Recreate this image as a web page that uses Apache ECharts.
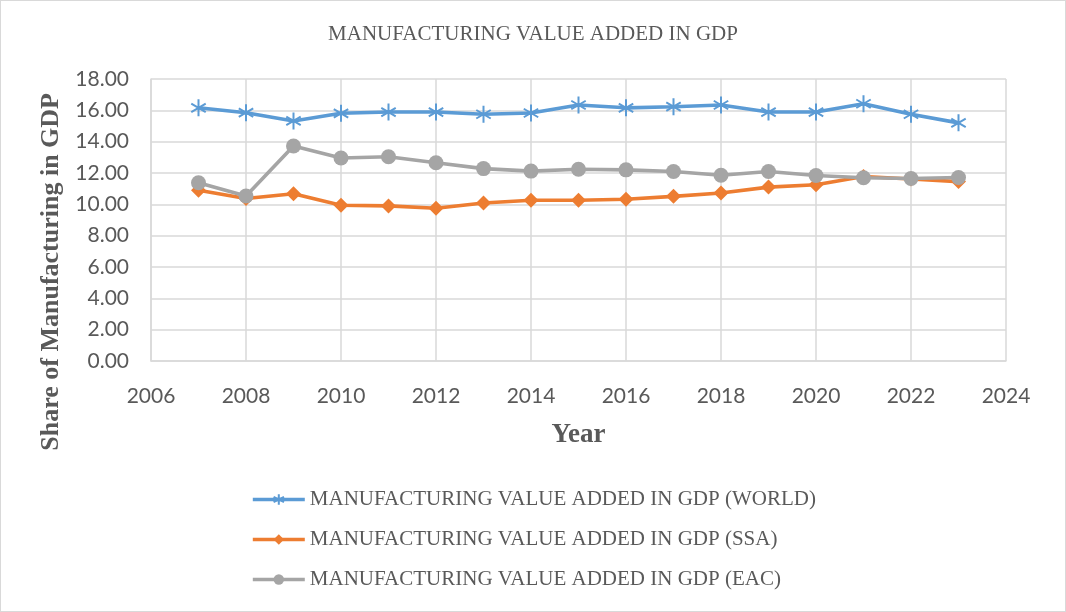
<!DOCTYPE html>
<html>
<head>
<meta charset="utf-8">
<script src="https://cdn.jsdelivr.net/npm/echarts@6/dist/echarts.min.js"></script>
<style>
  html, body { margin: 0; padding: 0; background: #fff; }
  #chart { width: 1066px; height: 612px; box-sizing: border-box; border: 1px solid #d9d9d9; }
</style>
</head>
<body>
<div id="chart"></div>
<script>
// Years and manufacturing value added (% of GDP)
const years = [2007, 2008, 2009, 2010, 2011, 2012, 2013, 2014, 2015, 2016, 2017, 2018, 2019, 2020, 2021, 2022, 2023];
const worldValues = [16.16, 15.85, 15.32, 15.81, 15.89, 15.89, 15.75, 15.83, 16.34, 16.16, 16.23, 16.34, 15.89, 15.89, 16.42, 15.75, 15.20];
const ssaValues   = [10.90, 10.37, 10.68, 9.94, 9.90, 9.75, 10.09, 10.26, 10.26, 10.32, 10.51, 10.72, 11.10, 11.25, 11.78, 11.62, 11.45];
const eacValues   = [11.38, 10.53, 13.72, 12.96, 13.04, 12.65, 12.28, 12.12, 12.24, 12.20, 12.10, 11.86, 12.10, 11.84, 11.70, 11.65, 11.71];
const seriesNames = [
  'MANUFACTURING VALUE ADDED IN GDP (WORLD)',
  'MANUFACTURING VALUE ADDED IN GDP (SSA)',
  'MANUFACTURING VALUE ADDED IN GDP (EAC)'
];

const pair = vals => years.map((y, i) => [y, vals[i]]);
const serif = '"Liberation Serif", "Times New Roman", serif';
const sans = 'Lato, "Noto Sans", sans-serif';
const asterisk = 'path://M0,-10L0,10M-8.5,-5L8.5,5M-8.5,5L8.5,-5';

const chart = echarts.init(document.getElementById('chart'));
chart.setOption({
  animation: false,
  title: {
    text: 'MANUFACTURING VALUE ADDED IN GDP',
    left: 'center',
    top: 18,
    textStyle: { fontFamily: serif, fontSize: 21, fontWeight: 'normal', color: '#595959' }
  },
  grid: { left: 150, right: 59, top: 78, bottom: 250 },
  xAxis: {
    type: 'value',
    min: 2006, max: 2024, interval: 2,
    name: 'Year',
    nameLocation: 'middle',
    nameGap: 61,
    nameTextStyle: { fontFamily: serif, fontSize: 27, fontWeight: 'bold', color: '#595959' },
    axisLine: { show: true, lineStyle: { color: '#d9d9d9', width: 1.5 } },
    axisTick: { show: false },
    splitLine: { show: true, lineStyle: { color: '#d9d9d9', width: 1.5 } },
    axisLabel: { fontFamily: sans, fontSize: 21, color: '#595959', margin: 25, formatter: v => String(v) }
  },
  yAxis: {
    type: 'value',
    min: 0, max: 18, interval: 2,
    axisLine: { show: true, lineStyle: { color: '#d9d9d9', width: 1.5 } },
    axisTick: { show: false },
    splitLine: { show: true, lineStyle: { color: '#d9d9d9', width: 1.5 } },
    axisLabel: { fontFamily: sans, fontSize: 21, color: '#595959', margin: 22, formatter: v => v.toFixed(2) }
  },
  graphic: [{
    type: 'text',
    left: 37,
    top: 92,
    rotation: Math.PI / 2,
    style: {
      text: 'Share of Manufacturing in GDP',
      font: 'bold 26px ' + serif,
      fill: '#595959'
    }
  }],
  legend: {
    orient: 'vertical',
    left: 245,
    top: 483,
    itemGap: 19,
    itemWidth: 52,
    itemHeight: 13,
    lineStyle: { width: 3.6 },
    textStyle: { fontFamily: serif, fontSize: 21, color: '#595959' },
    data: seriesNames
  },
  series: [
    {
      name: seriesNames[0], type: 'line', data: pair(worldValues),
      symbol: asterisk, symbolSize: 17, symbolKeepAspect: true,
      lineStyle: { color: '#5B9BD5', width: 3.6 },
      itemStyle: { color: '#5B9BD5', borderColor: '#5B9BD5', borderWidth: 2 },
      z: 3
    },
    {
      name: seriesNames[1], type: 'line', data: pair(ssaValues),
      symbol: 'diamond', symbolSize: 15,
      lineStyle: { color: '#ED7D31', width: 3.6 },
      itemStyle: { color: '#ED7D31' },
      z: 2
    },
    {
      name: seriesNames[2], type: 'line', data: pair(eacValues),
      symbol: 'circle', symbolSize: 15,
      lineStyle: { color: '#A5A5A5', width: 3.6 },
      itemStyle: { color: '#A5A5A5' },
      z: 4
    }
  ]
});
</script>
</body>
</html>
